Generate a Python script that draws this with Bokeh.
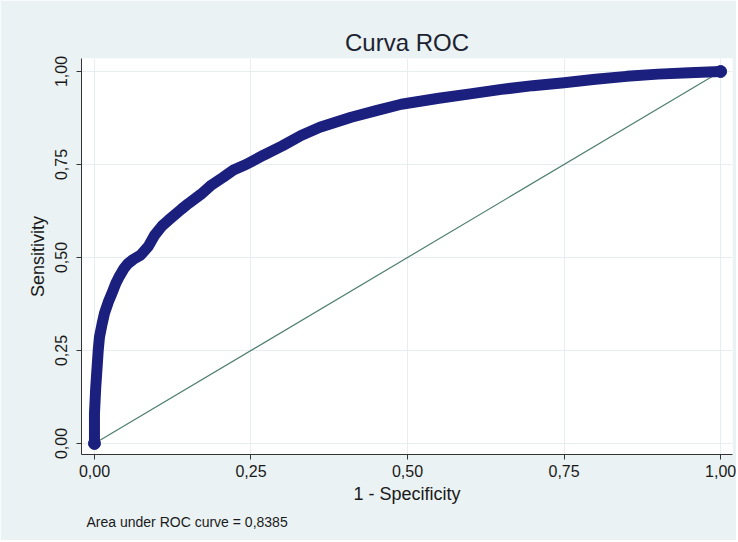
from bokeh.plotting import figure
from bokeh.models import FixedTicker, Range1d, Title
from bokeh.embed import file_html
from bokeh.resources import INLINE

# ROC curve points (1 - specificity, sensitivity)
fpr = [0.0, 0.0, 0.002, 0.004, 0.006, 0.008, 0.012, 0.016, 0.022, 0.027, 0.034,
       0.040, 0.047, 0.053, 0.062, 0.074, 0.086, 0.096, 0.108, 0.118, 0.139,
       0.150, 0.170, 0.187, 0.205, 0.222, 0.242, 0.27, 0.30, 0.33, 0.36, 0.41,
       0.45, 0.49, 0.55, 0.60, 0.65, 0.70, 0.75, 0.80, 0.85, 0.90, 0.95, 1.0]
tpr = [0.0, 0.08, 0.15, 0.20, 0.25, 0.286, 0.32, 0.35, 0.38, 0.40, 0.43,
       0.45, 0.47, 0.483, 0.495, 0.507, 0.53, 0.56, 0.585, 0.60, 0.63,
       0.645, 0.67, 0.695, 0.715, 0.735, 0.75, 0.775, 0.80, 0.828, 0.85, 0.877,
       0.895, 0.912, 0.928, 0.94, 0.952, 0.962, 0.970, 0.979, 0.987, 0.993, 0.997, 1.0]
ref_x = [0.0, 1.0]
ref_y = [0.0, 1.0]
tick_values = [0.0, 0.25, 0.5, 0.75, 1.0]
tick_labels = ["0,00", "0,25", "0,50", "0,75", "1,00"]
title_text = "Curva ROC"
x_label = "1 - Specificity"
y_label = "Sensitivity"
note_text = "Area under ROC curve = 0,8385"

FONT = "Liberation Sans"
BG = "#eaf2f3"

p = figure(width=736, height=540, output_backend="svg", toolbar_location=None,
           x_range=Range1d(-0.0207, 1.019), y_range=Range1d(-0.0296, 1.035),
           background_fill_color="white", border_fill_color=BG,
           min_border_left=81, min_border_right=4, min_border_top=58,
           min_border_bottom=86)
p.outline_line_color = None

p.title.text = title_text
p.title.align = "center"
p.title.text_font = FONT
p.title.text_font_size = "24px"
p.title.text_font_style = "normal"
p.title.text_color = "#1c2331"
p.title.standoff = 6

note = Title(text=note_text, align="left", text_font=FONT, text_font_size="14px",
             text_font_style="normal", text_color="#1a1a1a", offset=5)
p.add_layout(note, "below")

for ax in (p.xaxis[0], p.yaxis[0]):
    ax.ticker = FixedTicker(ticks=tick_values)
    ax.major_label_overrides = {v: l for v, l in zip(tick_values, tick_labels)}
    ax.major_label_text_font = FONT
    ax.major_label_text_font_size = "16px"
    ax.major_label_text_color = "#1a1a1a"
    ax.axis_label_text_font = FONT
    ax.axis_label_text_font_size = "18px"
    ax.axis_label_text_font_style = "normal"
    ax.axis_label_text_color = "#1a1a1a"
    ax.axis_line_color = "#333333"
    ax.major_tick_line_color = "#333333"
    ax.major_tick_out = 5
    ax.major_tick_in = 0
    ax.minor_tick_line_color = None

p.xaxis.major_label_standoff = 5
p.yaxis.major_label_standoff = 9
p.xaxis.axis_label = x_label
p.yaxis.axis_label = y_label
p.yaxis.major_label_orientation = "vertical"
p.xaxis.axis_label_standoff = 4
p.yaxis.axis_label_standoff = 5

p.xgrid.ticker = FixedTicker(ticks=tick_values)
p.ygrid.ticker = FixedTicker(ticks=tick_values)
p.xgrid.grid_line_color = "#e6eef0"
p.ygrid.grid_line_color = "#e6eef0"

p.line(ref_x, ref_y, line_color="#4f7f6e", line_width=1.2)
p.line(fpr, tpr, line_color="#1b1f7d", line_width=11, line_cap="round", line_join="round")
p.scatter([fpr[0], fpr[-1]], [tpr[0], tpr[-1]], size=12, color="#1b1f7d")

open("out.html", "w").write(file_html(p, INLINE))
